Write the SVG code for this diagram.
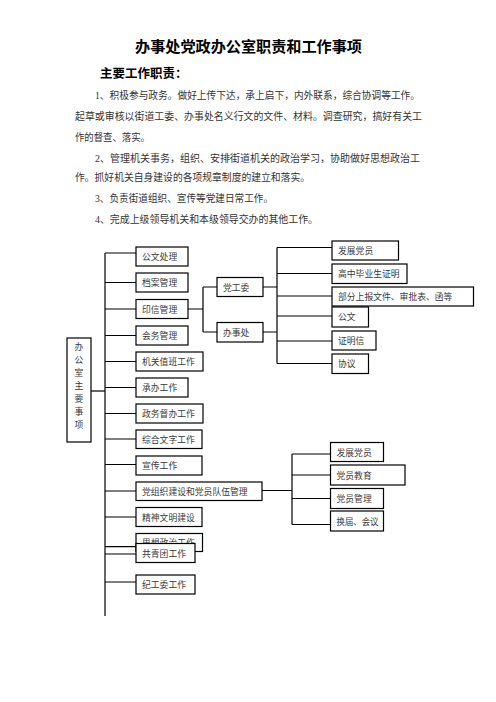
<svg xmlns="http://www.w3.org/2000/svg" width="496" height="702" viewBox="0 0 496 702">
<style>
.bg{fill:#fff}
.title{font-family:"Noto Sans CJK SC",sans-serif;font-size:15px;font-weight:bold;fill:#000}
.sub{font-family:"Noto Sans CJK SC",sans-serif;font-size:12.5px;font-weight:bold;fill:#000}
.body{font-family:"Liberation Serif","Noto Sans CJK SC",serif;font-size:10px;fill:#333}
.box rect{fill:#fff;stroke:#000;stroke-width:1.2}
.box text{font-family:"Noto Sans CJK SC",sans-serif;font-size:8.8px;fill:#3a3a3a}
.conn{fill:none;stroke:#000;stroke-width:1.2}
</style>
<defs>
<clipPath id="hideLow"><rect x="130" y="530" width="80" height="13.5"/></clipPath>
</defs>
<rect class="bg" x="0" y="0" width="496" height="702"/>
<text class="title" x="248.5" y="52" text-anchor="middle" textLength="227" lengthAdjust="spacingAndGlyphs">办事处党政办公室职责和工作事项</text>
<text class="sub" x="100" y="78">主要工作职责：</text>
<g id="paragraphs">
<text class="body" x="95" y="99" textLength="325" lengthAdjust="spacingAndGlyphs">1、积极参与政务。做好上传下达，承上启下，内外联系，综合协调等工作。</text>
<text class="body" x="75" y="120" textLength="347" lengthAdjust="spacingAndGlyphs">起草或审核以街道工委、办事处名义行文的文件、材料。调查研究，搞好有关工</text>
<text class="body" x="75" y="141" textLength="75" lengthAdjust="spacingAndGlyphs">作的督查、落实。</text>
<text class="body" x="95" y="162" textLength="325" lengthAdjust="spacingAndGlyphs">2、管理机关事务，组织、安排街道机关的政治学习，协助做好思想政治工</text>
<text class="body" x="75" y="181" textLength="235" lengthAdjust="spacingAndGlyphs">作。抓好机关自身建设的各项规章制度的建立和落实。</text>
<text class="body" x="95" y="202" textLength="178" lengthAdjust="spacingAndGlyphs">3、负责街道组织、宣传等党建日常工作。</text>
<text class="body" x="95" y="223" textLength="223" lengthAdjust="spacingAndGlyphs">4、完成上级领导机关和本级领导交办的其他工作。</text>
</g>
<g id="connectors" class="conn">
<path d="M105 253V616"/>
<path d="M91 391H105"/>
<path d="M105 253H136M105 282.5H136M105 309H136M105 335.5H136M105 361.5H136M105 387.5H136M105 413.5H136M105 439H136M105 464.5H136M105 491H136M105 517H136M105 546.7H136M105 554H136M105 582H136"/>
<path d="M188 309H203M203 287V332M203 287H217M203 332H217"/>
<path d="M263 287H277M263 332H277M277 247.5V363.5"/>
<path d="M277 247.5H332M277 273.5H332M277 296H332M277 316H332M277 341H332M277 363.5H332"/>
<path d="M262 490.5H292M292 454V524.5M292 454H330.5M292 475H330.5M292 498.5H330.5M292 524.5H330.5"/>
</g>
<g id="n-office" class="box"><rect x="67" y="338" width="24" height="104"/>
<text x="79" text-anchor="middle"><tspan x="79" y="350">办</tspan><tspan x="79" y="363">公</tspan><tspan x="79" y="376">室</tspan><tspan x="79" y="389">主</tspan><tspan x="79" y="402">要</tspan><tspan x="79" y="415">事</tspan><tspan x="79" y="428">项</tspan></text></g>
<g id="n-gongwen" class="box"><rect x="136" y="247" width="52" height="19"/><text x="142" y="260">公文处理</text></g>
<g id="n-dangan" class="box"><rect x="136" y="273" width="52" height="19"/><text x="142" y="286">档案管理</text></g>
<g id="n-yinxin" class="box"><rect x="136" y="299.5" width="52" height="19"/><text x="142" y="312.5">印信管理</text></g>
<g id="n-huiwu" class="box"><rect x="136" y="326" width="52" height="19"/><text x="142" y="339">会务管理</text></g>
<g id="n-zhiban" class="box"><rect x="136" y="352" width="67" height="19"/><text x="142" y="365">机关值班工作</text></g>
<g id="n-chengban" class="box"><rect x="136" y="378" width="52" height="19"/><text x="142" y="391">承办工作</text></g>
<g id="n-duban" class="box"><rect x="136" y="404" width="67" height="19"/><text x="142" y="417">政务督办工作</text></g>
<g id="n-wenzi" class="box"><rect x="136" y="430" width="66" height="18.5"/><text x="142" y="442.5">综合文字工作</text></g>
<g id="n-xuanchuan" class="box"><rect x="136" y="456" width="66" height="19"/><text x="142" y="469">宣传工作</text></g>
<g id="n-dangzuzhi" class="box"><rect x="136" y="482" width="126" height="18.5"/><text x="142" y="494.5">党组织建设和党员队伍管理</text></g>
<g id="n-jingshen" class="box"><rect x="136" y="507.5" width="66" height="19"/><text x="142" y="520.5">精神文明建设</text></g>
<g id="n-sixiang" class="box"><rect x="136" y="533.5" width="66.5" height="18"/><text x="142" y="546" clip-path="url(#hideLow)">思想政治工作</text></g>
<g id="n-gongqingtuan" class="box"><rect x="136" y="543.5" width="59" height="19"/><text x="142" y="556.5">共青团工作</text></g>
<g id="n-jigongwei" class="box"><rect x="136" y="575" width="59" height="19"/><text x="142" y="588">纪工委工作</text></g>
<g id="n-danggongwei" class="box"><rect x="217" y="277.5" width="46" height="19"/><text x="223" y="290.5">党工委</text></g>
<g id="n-banshichu" class="box"><rect x="217" y="322.5" width="46" height="19.5"/><text x="223" y="335.5">办事处</text></g>
<g id="n-fazhan1" class="box"><rect x="332" y="241" width="66.5" height="19"/><text x="338" y="254">发展党员</text></g>
<g id="n-gaozhong" class="box"><rect x="332" y="264" width="75" height="19.5"/><text x="338" y="277">高中毕业生证明</text></g>
<g id="n-bufen" class="box"><rect x="332" y="287" width="141.5" height="19"/><text x="338" y="300">部分上报文件、审批表、函等</text></g>
<g id="n-gongwen2" class="box"><rect x="332" y="307" width="36.5" height="20"/><text x="338" y="320">公文</text></g>
<g id="n-zhengming" class="box"><rect x="332" y="331" width="44" height="19"/><text x="338" y="344">证明信</text></g>
<g id="n-xieyi" class="box"><rect x="332" y="354" width="36.5" height="19.5"/><text x="338" y="367">协议</text></g>
<g id="n-fazhan2" class="box"><rect x="330.5" y="442.5" width="53" height="19"/><text x="336.5" y="455.5">发展党员</text></g>
<g id="n-jiaoyu" class="box"><rect x="330.5" y="465" width="74.5" height="20"/><text x="336.5" y="478.5">党员教育</text></g>
<g id="n-guanli" class="box"><rect x="330.5" y="488.5" width="53" height="20"/><text x="336.5" y="502">党员管理</text></g>
<g id="n-huanjie" class="box"><rect x="330.5" y="511" width="53" height="20"/><text x="336.5" y="524.5" textLength="42" lengthAdjust="spacingAndGlyphs">换届、会议</text></g>
</svg>
